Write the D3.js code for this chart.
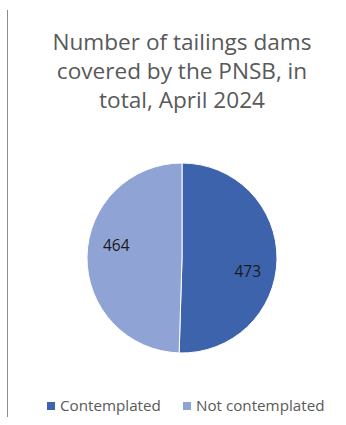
<!DOCTYPE html>
<html>
<head>
<meta charset="utf-8">
<script src="https://cdn.jsdelivr.net/npm/d3@7"></script>
<style>
  body { margin: 0; background: #fff; }
  svg { display: block; font-family: "Open Sans", "Noto Sans", sans-serif; }
</style>
</head>
<body>
<div id="chart"></div>
<script>
var w = 346, h = 425;

// data
var categories = ['Contemplated', 'Not contemplated'];
var values = [473, 464];
var colors = ['#3d63ad', '#8fa4d5'];
var titleLines = ['Number of tailings dams', 'covered by the PNSB, in', 'total, April 2024'];

var cx = 182, cy = 258, r = 95;

var svg = d3.select('#chart').append('svg')
	.attr('width', w)
	.attr('height', h)

// left border line
svg.append('line')
	.attr('x1', 7.5).attr('x2', 7.5)
	.attr('y1', 10).attr('y2', 417)
	.attr('stroke', '#8c8c8c')
	.attr('stroke-width', 1)

svg.append('g')
	.selectAll('text')
	.data(titleLines)
	.enter()
	.append('text')
	.attr('x', 182)
	.attr('y', function(d, i){ return 50 + i * 29 })
	.attr('text-anchor', 'middle')
	.attr('fill', '#595959')
	.attr('font-size', 22.6)
	.text(function(d){ return d })

var color = d3.scaleOrdinal().domain(categories).range(colors);

var pie = d3.pie().sort(null).value(function(d){ return d.v });
var arcs = pie(categories.map(function(c, i){ return { c: c, v: values[i] } }));

var arc = d3.arc().innerRadius(0).outerRadius(r);

var g = svg.append('g').attr('transform', 'translate(' + [cx, cy] + ')');

g.selectAll('path')
	.data(arcs)
	.enter()
	.append('path')
	.attr('d', arc)
	.attr('fill', function(d){ return color(d.data.c) })
	.attr('stroke', '#fff')
	.attr('stroke-width', 1)

// Excel nudges its labels a bit clockwise
var nudge = 0.18, lr = 67;
g.selectAll('text')
	.data(arcs)
	.enter()
	.append('text')
	.attr('transform', function(d){
		var a = (d.startAngle + d.endAngle) / 2 + nudge;
		return 'translate(' + [lr * Math.sin(a), -lr * Math.cos(a)] + ')'
	})
	.attr('text-anchor', 'middle')
	.attr('dy', '0.36em')
	.attr('font-size', 15.5)
	.attr('fill', '#1a1a1a')
	.text(function(d){ return d.data.v })

// legend
var legend = svg.append('g').attr('transform', 'translate(0,406)');
var lx = [47, 183];
var item = legend.selectAll('g')
	.data(categories)
	.enter()
	.append('g')
	.attr('transform', function(d, i){ return 'translate(' + lx[i] + ',0)' })

item.append('rect')
	.attr('x', 0).attr('y', -4)
	.attr('width', 8).attr('height', 8)
	.attr('fill', function(d){ return color(d) })

item.append('text')
	.attr('x', 13)
	.attr('dy', '0.35em')
	.attr('font-size', 15.2)
	.attr('fill', '#595959')
	.text(function(d){ return d })
</script>
</body>
</html>
